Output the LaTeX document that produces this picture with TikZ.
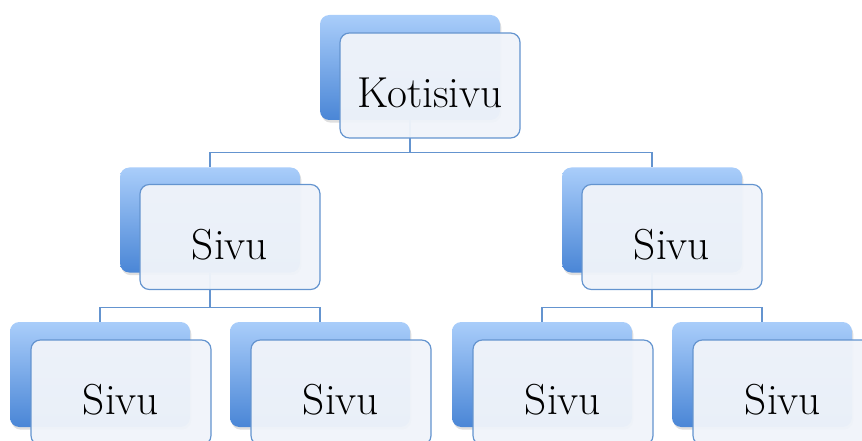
\documentclass[tikz,border=0pt]{standalone}
\usetikzlibrary{calc, shadows}

\definecolor{boxblue}{HTML}{4A86D6}
\definecolor{boxlight}{HTML}{A9CDFA}
\definecolor{edgeblue}{HTML}{6494CF}
\definecolor{cardfill}{HTML}{F0F4FA}

\begin{document}
\begin{tikzpicture}[
    x=0.75pt, y=-0.75pt,
    back/.style={rectangle, rounded corners=7pt, minimum width=135pt, minimum height=78.75pt,
        top color=boxlight, bottom color=boxblue, draw=none,
        drop shadow={opacity=0.25, shadow xshift=1pt, shadow yshift=-2pt}},
    card/.style={rectangle, rounded corners=7pt, minimum width=135pt, minimum height=78.75pt,
        draw=edgeblue, line width=0.9pt, fill=cardfill, fill opacity=0.96, text opacity=1,
        font=\fontsize{32.5}{38}\selectfont, text height=33pt, text depth=0pt},
    link/.style={draw=edgeblue, line width=0.9pt}
]
    \useasboundingbox (0,0) rectangle (862,441);

    % taustalaatat
    \node[back] (koti-b) at (410, 67.5) {};
    \node[back] (vasen-b) at (210, 220) {};
    \node[back] (oikea-b) at (652, 220) {};
    \node[back] (s1-b) at (100, 374.5) {};
    \node[back] (s2-b) at (320, 374.5) {};
    \node[back] (s3-b) at (542, 374.5) {};
    \node[back] (s4-b) at (762, 374.5) {};

    % yhteydet
    \coordinate (haara0) at ($(koti-b.south)+(0,32)$);
    \draw[link] (koti-b.south) -- (haara0) -| (vasen-b.north);
    \draw[link] (haara0) -| (oikea-b.north);

    \coordinate (haara1) at ($(vasen-b.south)+(0,35)$);
    \draw[link] (vasen-b.south) -- (haara1) -| (s1-b.north);
    \draw[link] (haara1) -| (s2-b.north);

    \coordinate (haara2) at ($(oikea-b.south)+(0,35)$);
    \draw[link] (oikea-b.south) -- (haara2) -| (s3-b.north);
    \draw[link] (haara2) -| (s4-b.north);

    % etukortit
    \node[card] (koti) at ($(koti-b)+(20,18)$) {Kotisivu};
    \node[card] (vasen) at ($(vasen-b)+(20,17)$) {Sivu};
    \node[card] (oikea) at ($(oikea-b)+(20,17)$) {Sivu};
    \node[card] (s1) at ($(s1-b)+(21,18)$) {Sivu};
    \node[card] (s2) at ($(s2-b)+(21,18)$) {Sivu};
    \node[card] (s3) at ($(s3-b)+(21,18)$) {Sivu};
    \node[card] (s4) at ($(s4-b)+(21,18)$) {Sivu};
\end{tikzpicture}
\end{document}
